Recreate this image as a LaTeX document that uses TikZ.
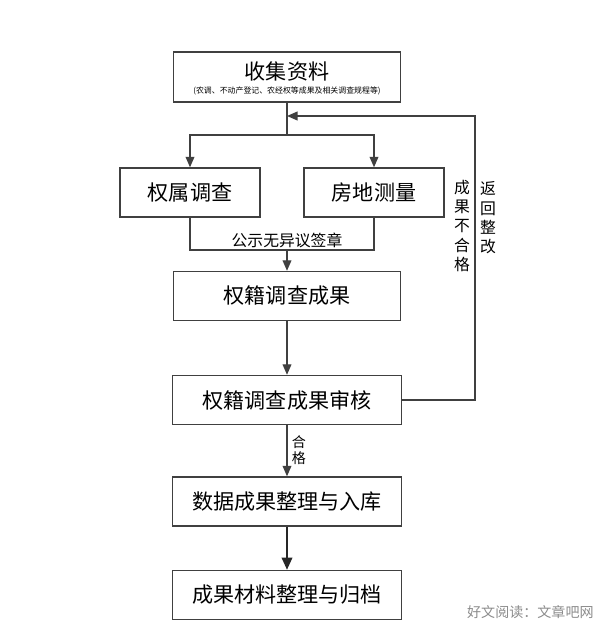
\documentclass[tikz,border=0pt]{standalone}
\usepackage{fontspec}
\setmainfont{Noto Sans CJK SC}
\usetikzlibrary{arrows.meta,positioning}
\begin{document}
\begin{tikzpicture}[x=0.02cm,y=-0.02cm,
  stepbox/.style={draw=black!75,thick,minimum height=0.98cm,inner sep=0pt,font=\large},
  flow/.style={draw=black!75,thick,-{Triangle[length=6pt,width=5pt]}},
  line/.style={draw=black!75,thick}]
\useasboundingbox[fill=white] (0,0) rectangle (600,628);

% boxes
\node[stepbox,minimum width=4.54cm,minimum height=1cm] (collect) at (287,77) {};
\node[font=\large] (ctitle) at (287,71) {收集资料};
\node[font=\fontsize{4.5}{5}\selectfont] (csub) at (287,91) {(农调、不动产登记、农经权等成果及相关调查规程等)};
\node[stepbox,minimum width=2.8cm] (owner) at (190,192.5) {权属调查};
\node[stepbox,minimum width=2.8cm] (survey) at (374,192.5) {房地测量};
\node[stepbox,minimum width=4.54cm] (result) at (287,296) {权籍调查成果};
\node[stepbox,minimum width=4.58cm] (review) at (287,400) {权籍调查成果审核};
\node[stepbox,minimum width=4.58cm] (store) at (287,501.5) {数据成果整理与入库};
\node[stepbox,minimum width=4.58cm] (archive) at (287,595) {成果材料整理与归档};

% split
\coordinate (split) at (287,135);
\coordinate (back) at (287,116);
\draw[line] (collect.south) -- (split);
\draw[flow] (split) -| (owner.north);
\draw[flow] (split) -| (survey.north);

% merge
\coordinate (merge) at (287,250);
\draw[line] (owner.south) |- (merge) -| (survey.south);
\node[font=\small] (notice) at (287,240) {公示无异议签章};
\draw[flow] (merge) -- (result.north);
\draw[flow] (result.south) -- (review.north);

% feedback
\coordinate (corner) at (475,400);
\draw[flow] (review.east) -- (corner) |- (back);
\node[font=\small,align=center,inner sep=0pt] (fail) at (462,226) {成\\果\\不\\合\\格};
\node[font=\small,align=center,inner sep=0pt] (redo) at (488,218) {返\\回\\整\\改};

\draw[flow] (review.south) -- (store.north);
\node[font=\footnotesize,align=center,inner sep=0pt] (pass) at (299,450) {合\\格};
\draw[draw=black!85,very thick,-{Triangle[length=7pt,width=6pt]}] (store.south) -- (archive.north);

\node[font=\footnotesize,text=black!45,anchor=east,inner sep=0pt] (mark) at (594,612) {好文阅读：文章吧网};
\end{tikzpicture}
\end{document}
